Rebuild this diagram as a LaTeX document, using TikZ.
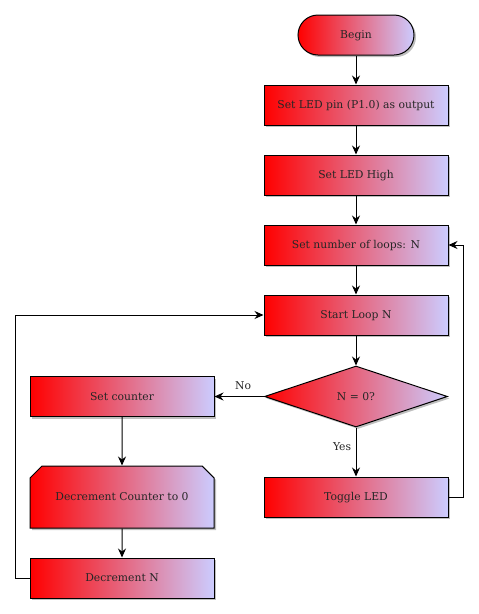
\documentclass[tikz,border=0pt]{standalone}
\usepackage{fontspec}
\setmainfont{DejaVu Serif}
\usetikzlibrary{arrows.meta,shapes.geometric,shapes.misc,shadows}
\definecolor{gradL}{RGB}{255,0,0}
\definecolor{gradR}{RGB}{204,204,255}
\tikzset{
  base/.style={draw=black,line width=1pt,left color=gradL,right color=gradR,
    font=\fontsize{10.8}{13}\selectfont,text=black!85,text height=7.9pt,text depth=0pt,
    drop shadow={shadow xshift=2pt,shadow yshift=-2pt,opacity=0.25,fill=black}},
  procbox/.style={base,rectangle,minimum width=184pt,minimum height=40pt,inner sep=0pt},
  startbox/.style={base,rectangle,rounded corners=20pt,minimum width=116pt,minimum height=40pt,inner sep=0pt},
  decbox/.style={base,diamond,minimum width=183pt,minimum height=61pt,inner sep=0pt,aspect=3},
  chambox/.style={base,chamfered rectangle,chamfered rectangle corners={north west,north east},
    chamfered rectangle xsep=8pt,chamfered rectangle ysep=8pt,minimum width=184pt,minimum height=62pt,inner sep=0pt},
  conn/.style={line width=1pt,-{Stealth[length=9pt,width=8pt,inset=3pt]}},
  lbl/.style={font=\fontsize{10.8}{13}\selectfont,text=black!85}
}
\begin{document}
\begin{tikzpicture}[x=1pt,y=-1pt]
\useasboundingbox (0,0) rectangle (479,614);
\node[startbox] (begin) at (356,35) {Begin};
\node[procbox] (pin) at (356,105) {Set LED pin (P1.0) as output};
\node[procbox] (high) at (356,175) {Set LED High};
\node[procbox] (loops) at (356,245) {Set number of loops: N};
\node[procbox] (start) at (356,315) {Start Loop N};
\node[decbox] (dec) at (356,396.5) {N = 0?};
\node[procbox] (counter) at (122,396.5) {Set counter};
\node[chambox] (deccnt) at (122,497) {Decrement Counter to 0};
\node[procbox] (toggle) at (356,497) {Toggle LED};
\node[procbox] (decN) at (122,578) {Decrement N};
\coordinate (lx) at (15,0);
\coordinate (rx) at (463,0);
\draw[conn] (begin) -- (pin);
\draw[conn] (pin) -- (high);
\draw[conn] (high) -- (loops);
\draw[conn] (loops) -- (start);
\draw[conn] (start) -- (dec);
\draw[conn] (dec.west) -- (counter.east) node[lbl,pos=0.42,above=3pt] (no) {No};
\draw[conn] (dec.south) -- (toggle.north) node[lbl,pos=0.4,left=1pt] (yes) {Yes};
\draw[conn] (counter) -- (deccnt);
\draw[conn] (deccnt) -- (decN);
\draw[conn] (decN.west) -- (decN.west -| lx) |- (start.west);
\draw[conn] (toggle.east) -- (toggle.east -| rx) |- (loops.east);
\end{tikzpicture}
\end{document}
